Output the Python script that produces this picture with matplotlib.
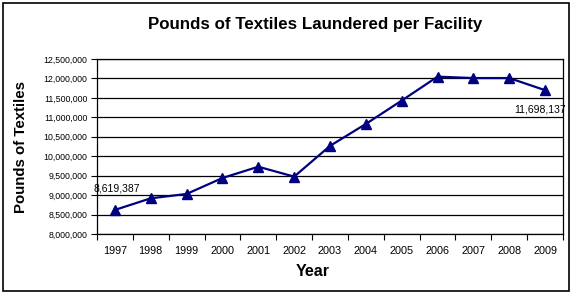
import matplotlib
matplotlib.use("Agg")
import matplotlib.pyplot as plt
from matplotlib.patches import Rectangle
from matplotlib.ticker import FuncFormatter, MultipleLocator
import numpy as np

plt.rcParams['font.family'] = ['Liberation Sans', 'DejaVu Sans']

years = ['1997', '1998', '1999', '2000', '2001', '2002', '2003',
         '2004', '2005', '2006', '2007', '2008', '2009']
pounds = [8619387, 8918000, 9030000, 9440000, 9730000, 9475000, 10265000,
          10830000, 11430000, 12046000, 12010000, 12010000, 11698137]

fig = plt.figure(figsize=(5.75, 2.96), dpi=100)
ax = fig.add_axes([97/575, 62/296, 466/575, 175/296])

x = np.arange(len(years))
ax.plot(x, pounds, color='#000080', lw=1.6, marker='^', ms=6.5, zorder=3)

ax.set_xlim(-0.5, len(years) - 0.5)
ax.set_ylim(8000000, 12500000)
ax.yaxis.set_major_locator(MultipleLocator(500000))
ax.yaxis.set_major_formatter(FuncFormatter(lambda v, p: f"{int(v):,}"))
ax.grid(axis='y', color='black', lw=0.9)
ax.set_axisbelow(True)

# category axis: ticks between categories, labels at centres
ax.set_xticks(np.arange(-0.5, len(years), 1.0))
ax.set_xticklabels([])
ax.set_xticks(x, minor=True)
ax.set_xticklabels(years, minor=True, fontsize=7.8)
ax.tick_params(axis='x', which='minor', length=0, pad=9)
ax.tick_params(axis='x', which='major', length=4, direction='out', color='black')
ax.tick_params(axis='y', labelsize=6.3, length=4, pad=3)

for s in ax.spines.values():
    s.set_color('black')
    s.set_linewidth(0.9)

ax.annotate(f"{pounds[0]:,}", (x[0], pounds[0]), xytext=(1, 12),
            textcoords='offset points', ha='center', va='bottom', fontsize=7.5)
ax.annotate(f"{pounds[-1]:,}", (x[-1], pounds[-1]), xytext=(-4, -10),
            textcoords='offset points', ha='center', va='top', fontsize=7.5)

fig.text(315/575, 1 - 25/296, 'Pounds of Textiles Laundered per Facility',
         ha='center', va='center', fontsize=12.2, fontweight='bold')
fig.text(313/575, 1 - 272/296, 'Year', ha='center', va='center',
         fontsize=11.5, fontweight='bold')
fig.text(21/575, 1 - 147/296, 'Pounds of Textiles', ha='center', va='center',
         rotation=90, fontsize=10.8, fontweight='bold')

fig.patches.append(Rectangle((3/575, 5/296), 566/575, 288/296,
                             transform=fig.transFigure, fill=False,
                             edgecolor='black', lw=1.2))

fig.savefig('out.png', dpi=100)
